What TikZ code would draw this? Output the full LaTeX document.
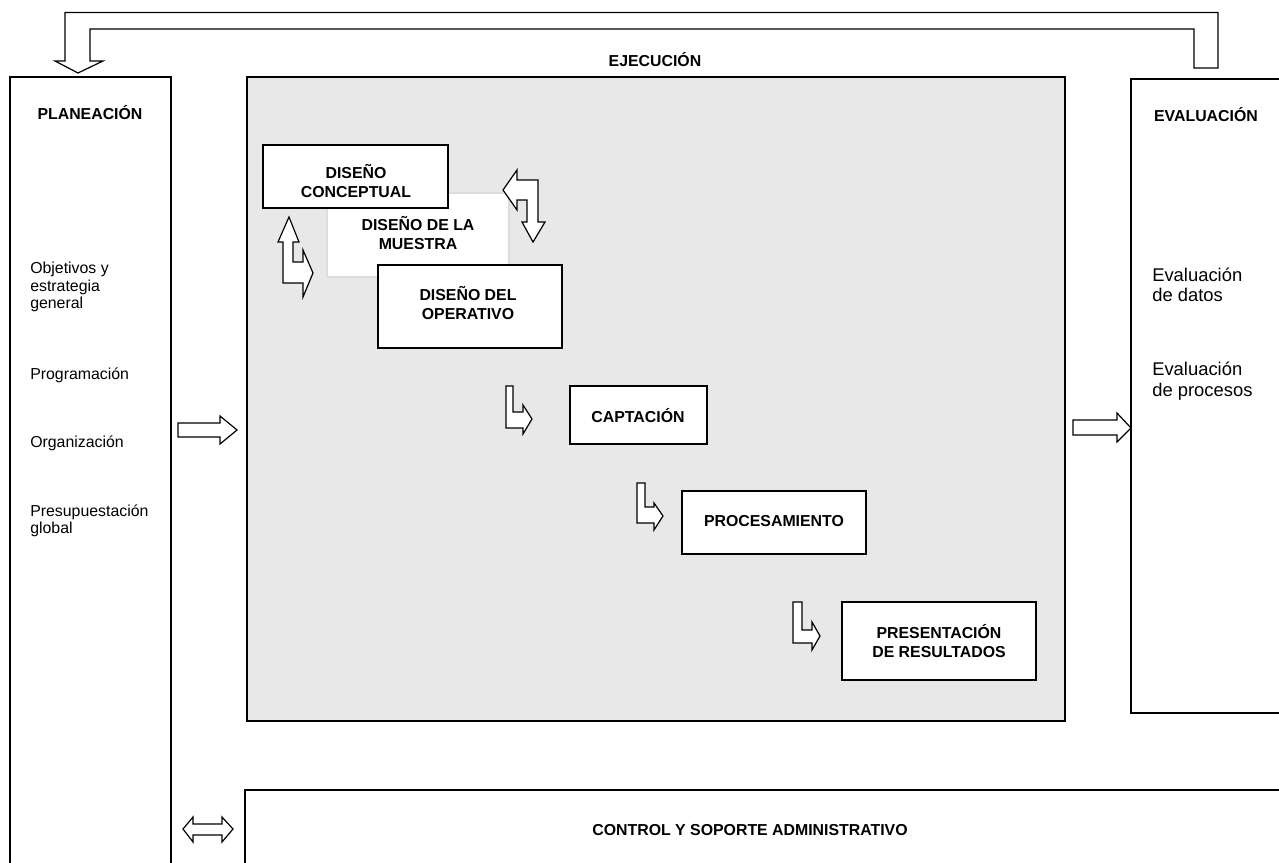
\documentclass[tikz,border=0pt]{standalone}
\usepackage{fontspec}
\setmainfont{Liberation Sans}
\definecolor{ejgray}{HTML}{E8E8E8}
\definecolor{mgray}{HTML}{DDDDDD}
\begin{document}
\begin{tikzpicture}[x=0.75pt,y=-0.75pt,
 box/.style={draw=black,line width=1.3pt},
 wbox/.style={box,fill=white},
 blockarrow/.style={draw=black,fill=white,line width=0.9pt,line join=miter},
 lbl/.style={font=\fontsize{11.9}{14.3}\selectfont\bfseries,align=center,inner sep=0pt},
 txt/.style={font=\fontsize{11.9}{13.2}\selectfont,align=left,anchor=west,inner sep=0pt},
 evtxt/.style={font=\fontsize{13.8}{15.3}\selectfont,align=left,anchor=west,inner sep=0pt}]
\useasboundingbox (0,0) rectangle (1279,863);

% main frames
\draw[box] (10,880) -- (10,77) -- (171,77) -- (171,880);
\draw[box,fill=ejgray] (247,77) rectangle (1065,721);
\draw[box] (1300,79) -- (1131,79) -- (1131,713) -- (1300,713);
\draw[box] (1300,790) -- (245,790) -- (245,880);

% titles
\node[lbl] (plan) at (90,113) {PLANEACIÓN};
\node[lbl] (ejec) at (655,60) {EJECUCIÓN};
\node[lbl] (eval) at (1206,115) {EVALUACIÓN};
\node[lbl] (ctrl) at (750,830) {CONTROL Y SOPORTE ADMINISTRATIVO};

% planeacion items
\node[txt] (obj) at (30,287) {Objetivos y\\estrategia\\general};
\node[txt] (prog) at (30,375) {Programación};
\node[txt] (org) at (30,443) {Organización};
\node[txt] (pres) at (30,521) {Presupuestación\\global};

% evaluacion items
\node[evtxt] (evd) at (1152,285) {Evaluación\\de datos};
\node[evtxt] (evp) at (1152,381) {Evaluación\\de procesos};

% inner boxes
\draw[draw=mgray,fill=white,line width=0.8pt] (327,193) rectangle (509,277);
\node[lbl] (mues) at (418,233) {DISEÑO DE LA\\MUESTRA};
\draw[wbox] (263,145) rectangle (448,208);
\node[lbl] (conc) at (356,181) {DISEÑO\\CONCEPTUAL};
\draw[wbox] (378,265) rectangle (562,348);
\node[lbl] (oper) at (468,303) {DISEÑO DEL\\OPERATIVO};
\draw[wbox] (570,386) rectangle (707,444);
\node[lbl] (capt) at (638,416) {CAPTACIÓN};
\draw[wbox] (682,491) rectangle (866,554);
\node[lbl] (proc) at (774,521) {PROCESAMIENTO};
\draw[wbox] (842,602) rectangle (1036,680);
\node[lbl] (resu) at (939,641) {PRESENTACIÓN\\DE RESULTADOS};

% feedback arrow on top
\draw[blockarrow] (65,61) -- (55,61) -- (78,73) -- (103,61) -- (90,61) -- (90,29)
  -- (1194,29) -- (1194,68) -- (1218,68) -- (1218,12.5) -- (65,12.5) -- cycle;

% planeacion -> ejecucion
\draw[blockarrow] (178,423) -- (220,423) -- (220,416) -- (237,430) -- (220,444)
  -- (220,437) -- (178,437) -- cycle;
% ejecucion -> evaluacion
\draw[blockarrow] (1073,420) -- (1117,420) -- (1117,413) -- (1131,428) -- (1117,442)
  -- (1117,435) -- (1073,435) -- cycle;
% double arrow to control
\draw[blockarrow] (183,829) -- (193,817) -- (193,824) -- (222,824) -- (222,817)
  -- (233,829) -- (222,842) -- (222,835) -- (193,835) -- (193,842) -- cycle;

% bent arrow left (up / right)
\draw[blockarrow] (289,217) -- (299,242) -- (293,242) -- (293,262) -- (303,262)
  -- (303,250) -- (313,273) -- (303,297) -- (303,283) -- (283,283) -- (283,242)
  -- (278,242) -- cycle;
% bent arrow right (left / down)
\draw[blockarrow] (503,190) -- (517,170) -- (517,180) -- (538,180) -- (538,222)
  -- (545,222) -- (533,242) -- (522,222) -- (527,222) -- (527,200) -- (517,200)
  -- (517,210) -- cycle;

% L arrows
\draw[blockarrow] (506,386) -- (513,386) -- (513,412) -- (523,412) -- (523,405)
  -- (532,419) -- (523,434) -- (523,428) -- (506,428) -- cycle;
\draw[blockarrow] (637,483) -- (645,483) -- (645,507) -- (654,507) -- (654,503)
  -- (663,516) -- (654,530) -- (654,523) -- (637,523) -- cycle;
\draw[blockarrow] (793,602) -- (802,602) -- (802,630) -- (812,630) -- (812,622)
  -- (820,636) -- (812,650) -- (812,643) -- (793,643) -- cycle;
\end{tikzpicture}
\end{document}
